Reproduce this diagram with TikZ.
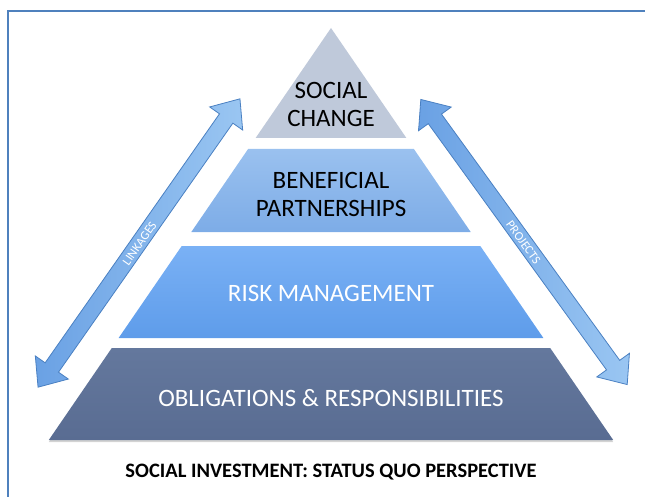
\documentclass[tikz,border=0pt]{standalone}
\usepackage{fontspec}
\setmainfont{Carlito}
\usepackage{xcolor}
\usetikzlibrary{shapes.arrows,shadows}

\definecolor{framecol}{HTML}{4F81BD}
\definecolor{capcol}{HTML}{BFC9DA}
\definecolor{partlight}{HTML}{9AC1EF}
\definecolor{partdark}{HTML}{7DACE7}
\definecolor{risklight}{HTML}{7AB1F5}
\definecolor{riskdark}{HTML}{5E9CEA}
\definecolor{baselight}{HTML}{64789D}
\definecolor{basedark}{HTML}{596C92}
\definecolor{arrlight}{HTML}{9AC6F2}
\definecolor{arrdark}{HTML}{6AA1E4}
\definecolor{arredge}{HTML}{4A80C2}

\begin{document}
\begin{tikzpicture}[x=1pt, y=-1pt,
        tier/.style={draw=none},
        label/.style={align=center, font=\fontsize{25}{28}\selectfont},
        dblarrow/.style={shape=double arrow, draw=arredge, line width=0.8pt,
            left color=arrdark, right color=arrlight,
            double arrow head extend=12pt, double arrow tip angle=80,
            minimum height=352pt, text height=9.5pt, text depth=0pt,
            inner xsep=1pt, inner ysep=3pt,
            text=white, font=\fontsize{12.5}{13}\selectfont}]

    \useasboundingbox (0,0) rectangle (645,497);

    % Frame (only top and left edges fall inside)
    \draw[framecol, line width=2pt] (8,520) -- (8,11) -- (670,11);

    % Pyramid tiers
    \fill[tier, capcol] (331,28) -- (406.4,138) -- (255.6,138) -- cycle;
    \shade[tier, top color=partlight, bottom color=partdark]
        (248.1,149) -- (413.9,149) -- (470.7,232) -- (191.3,232) -- cycle;
    \shade[tier, top color=risklight, bottom color=riskdark]
        (181.7,246) -- (480.3,246) -- (543.4,338) -- (118.6,338) -- cycle;
    \shade[tier, top color=baselight, bottom color=basedark,
        drop shadow={shadow xshift=0pt, shadow yshift=-2pt, opacity=0.35}]
        (111.8,348) -- (550.2,348) -- (613.2,440) -- (48.8,440) -- cycle;

    % Tier labels
    \node[label] (change) at (331,104) {SOCIAL\\CHANGE};
    \node[label] (partners) at (331,194) {BENEFICIAL\\PARTNERSHIPS};
    \node[label, text=white] (risk) at (331,293) {RISK MANAGEMENT};
    \node[label, text=white] (duties) at (331,398) {OBLIGATIONS \& RESPONSIBILITIES};

    % Side arrows
    \node[dblarrow, rotate=55] (links) at (139,243) {LINKAGES};
    \node[dblarrow, rotate=-54.1] (projects) at (524,242) {PROJECTS};

    % Caption
    \node[font=\fontsize{20.5}{24}\selectfont\bfseries] (caption) at (331,472)
        {SOCIAL INVESTMENT: STATUS QUO PERSPECTIVE};
\end{tikzpicture}
\end{document}
